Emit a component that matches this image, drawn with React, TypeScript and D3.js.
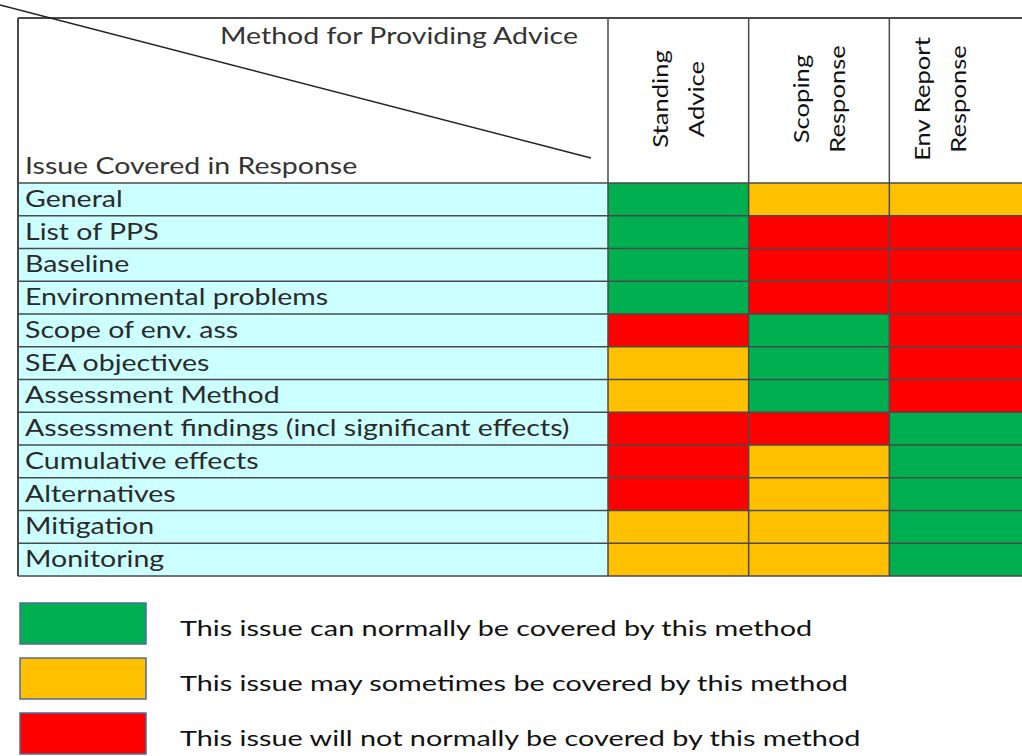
import React from 'react';
import * as d3 from 'd3';

const methods: string[][] = [
  ['Standing', 'Advice'],
  ['Scoping', 'Response'],
  ['Env Report', 'Response'],
];

const issues: string[] = [
  'General',
  'List of PPS',
  'Baseline',
  'Environmental problems',
  'Scope of env. ass',
  'SEA objectives',
  'Assessment Method',
  'Assessment findings (incl significant effects)',
  'Cumulative effects',
  'Alternatives',
  'Mitigation',
  'Monitoring',
];

// G = can normally, A = may sometimes, R = will not normally
const standingAdvice: string[] = ['G', 'G', 'G', 'G', 'R', 'A', 'A', 'R', 'R', 'R', 'A', 'A'];
const scopingResponse: string[] = ['A', 'R', 'R', 'R', 'G', 'G', 'G', 'R', 'A', 'A', 'A', 'A'];
const envReportResponse: string[] = ['A', 'R', 'R', 'R', 'R', 'R', 'R', 'G', 'G', 'G', 'G', 'G'];

const levels: string[] = ['G', 'A', 'R'];
const legendLabels: string[] = [
  'This issue can normally be covered by this method',
  'This issue may sometimes be covered by this method',
  'This issue will not normally be covered by this method',
];

const W = 1022;
const H = 756;
const FONT = 'Lato, "Open Sans", sans-serif';
// the source glyphs are wider than Lato's, stretch horizontally
const TABLE_STRETCH = 1.24;
const HEAD_STRETCH = 1.22;
const LEGEND_STRETCH = 1.31;

const App: React.FC = () => {
  const columns = [standingAdvice, scopingResponse, envReportResponse];
  const colKeys = methods.map((m) => m.join(' '));

  const x = d3.scaleBand<string>().domain(colKeys).range([608, 1030]);
  const y = d3.scaleBand<string>().domain(issues).range([183, 576]);
  const color = d3
    .scaleOrdinal<string, string>()
    .domain(levels)
    .range(['#00b050', '#ffc000', '#ff0000']);
  const legendY = d3.scaleBand<string>().domain(levels).range([603, 754]).paddingInner(0.2545);

  const left = 18;
  const top = 18;
  const headerBottom = y.range()[0];
  const bottom = y.range()[1];
  const line = '#4a4a4a';

  return (
    <svg
      width={W}
      height={H}
      style={{ position: 'absolute', left: 0, top: 0, background: '#fff' }}
      fontFamily={FONT}
    >
      <rect x={left} y={top} width={W - left} height={headerBottom - top} fill="#fff" />
      {/* issue label cells */}
      {issues.map((issue) => (
        <g key={issue}>
          <rect x={left} y={y(issue)} width={608 - left} height={y.bandwidth()} fill="#ccffff" />
          <text
            transform={`translate(${left + 7},${(y(issue) ?? 0) + y.bandwidth() - 9}) scale(${TABLE_STRETCH},1)`}
            fontSize={23}
            fill="#2a2a2a"
          >
            {issue}
          </text>
        </g>
      ))}
      {/* coloured cells */}
      {columns.map((col, ci) =>
        col.map((v, ri) => (
          <rect
            key={`${ci}-${ri}`}
            x={x(colKeys[ci])}
            y={y(issues[ri])}
            width={x.bandwidth()}
            height={y.bandwidth()}
            fill={color(v)}
          />
        ))
      )}
      {/* grid */}
      {issues.map((issue) => (
        <line
          key={`l-${issue}`}
          x1={left}
          x2={W}
          y1={y(issue)}
          y2={y(issue)}
          stroke={line}
          strokeWidth={1.5}
        />
      ))}
      <line x1={left} x2={W} y1={bottom} y2={bottom} stroke={line} strokeWidth={1.5} />
      <line x1={left} x2={W} y1={top} y2={top} stroke={line} strokeWidth={2} />
      <line x1={left} x2={left} y1={top} y2={bottom} stroke={line} strokeWidth={2} />
      {colKeys.map((k) => (
        <line key={`c-${k}`} x1={x(k)} x2={x(k)} y1={top} y2={bottom} stroke={line} strokeWidth={1.5} />
      ))}
      {/* column headers */}
      {methods.map((m, i) => {
        const cx = Math.min((x(colKeys[i]) ?? 0) + x.bandwidth() / 2, 940);
        const cy = 99;
        return (
          <g key={`h-${i}`} transform={`translate(${cx},${cy}) rotate(-90) scale(${HEAD_STRETCH},1)`}>
            <text textAnchor="middle" fontSize={21} fill="#111">
              <tspan x={0} y={-10}>
                {m[0]}
              </tspan>
              <tspan x={0} y={26}>
                {m[1]}
              </tspan>
            </text>
          </g>
        );
      })}
      {/* corner header */}
      <line x1={0} y1={5} x2={591} y2={158} stroke="#222" strokeWidth={1.5} />
      <text
        transform={`translate(578,44) scale(${TABLE_STRETCH},1)`}
        textAnchor="end"
        fontSize={23}
        fill="#333"
      >
        Method for Providing Advice
      </text>
      <text transform={`translate(${left + 7},174) scale(${TABLE_STRETCH},1)`} fontSize={23} fill="#333">
        Issue Covered in Response
      </text>
      {/* legend */}
      {levels.map((lv, i) => (
        <g key={`lg-${lv}`}>
          <rect
            x={20}
            y={legendY(lv)}
            width={126}
            height={legendY.bandwidth()}
            fill={color(lv)}
            stroke="#4f6b9c"
            strokeWidth={1.5}
          />
          <text
            transform={`translate(180,${(legendY(lv) ?? 0) + 33}) scale(${LEGEND_STRETCH},1)`}
            fontSize={22}
            fill="#111"
          >
            {legendLabels[i]}
          </text>
        </g>
      ))}
    </svg>
  );
};

export default App;
